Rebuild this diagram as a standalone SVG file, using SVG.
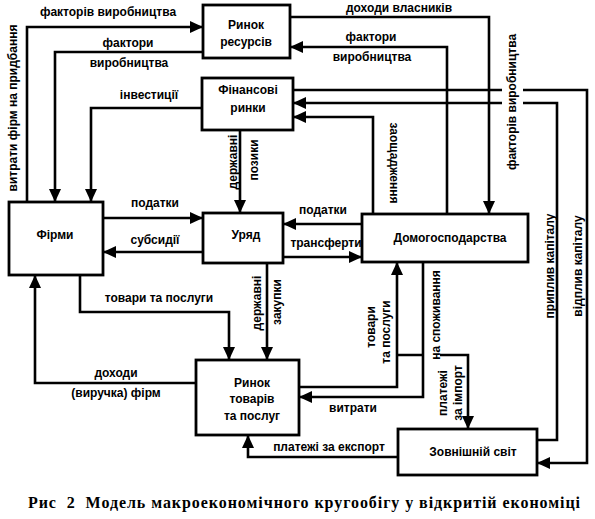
<svg xmlns="http://www.w3.org/2000/svg" width="595" height="519" viewBox="0 0 595 519">
<style>
.box{fill:#fff;stroke:#000;stroke-width:2.8}
.c{fill:none;stroke:#000;stroke-width:2.6}
.a{marker-end:url(#ah)}
text{font-family:"Liberation Sans",Arial,sans-serif;font-weight:bold;font-size:12px;fill:#000;text-anchor:middle;dominant-baseline:central}
.cap{font-family:"Liberation Serif","Times New Roman",serif;font-size:16px;text-anchor:start;dominant-baseline:auto;white-space:pre}
</style>
<defs>
<marker id="ah" markerUnits="userSpaceOnUse" markerWidth="13" markerHeight="12" refX="13" refY="6" orient="auto">
<path d="M0,0 L13,6 L0,12 z" fill="#000"/>
</marker>
</defs>
<rect width="595" height="519" fill="#fff"/>
<g id="connectors">
<path class="c a" d="M27,202 V27 H203"/>
<path class="c a" d="M203,52 H55 V202"/>
<path class="c a" d="M202,108 H91 V202"/>
<path class="c a" d="M290,17 H489 V214"/>
<path class="c a" d="M447,214 V47 H290"/>
<path class="c a" d="M293,90 H502 M523,90 H587 V463 H537"/>
<path class="c a" d="M537,440 H557 V103 H523 M502,103 H293"/>
<path class="c a" d="M373,214 V117 H293"/>
<path class="c a" d="M240,130 V213"/>
<path class="c a" d="M103,218 H203"/>
<path class="c a" d="M203,252 H103"/>
<path class="c a" d="M362,224 H283"/>
<path class="c a" d="M283,257 H362"/>
<path class="c a" d="M80,275 V312 H229 V360"/>
<path class="c a" d="M267,263 V360"/>
<path class="c a" d="M196,383 H35 V275"/>
<path class="c a" d="M299,387 H397 V262"/>
<path class="c a" d="M423,262 V397 H299"/>
<path class="c a" d="M397,355 H423 M440,355 H468 V429"/>
<path class="c a" d="M398,457 H248 V435"/>
</g>
<g id="labels">
<text x="108" y="12">факторів виробництва</text>
<text transform="translate(13,108) rotate(-90)">витрати фірм на придбання</text>
<text x="128" y="43">фактори</text>
<text x="129" y="63">виробництва</text>
<text x="149" y="95">інвестиції</text>
<text x="399" y="8">доходи власників</text>
<text x="371" y="37">фактори</text>
<text x="372" y="57">виробництва</text>
<text transform="translate(512,102) rotate(-90)">факторів виробництва</text>
<text transform="translate(394,163) rotate(90)">заощадження</text>
<text transform="translate(233,162) rotate(-90)">державні</text>
<text transform="translate(254,160) rotate(-90)">позики</text>
<text x="155" y="203">податки</text>
<text x="155" y="240">субсидії</text>
<text x="323" y="210">податки</text>
<text x="326" y="243">трансферти</text>
<text x="159" y="298">товари та послуги</text>
<text transform="translate(257,303) rotate(-90)">державні</text>
<text transform="translate(277,302) rotate(-90)">закупки</text>
<text transform="translate(371,327) rotate(-90)">товари</text>
<text transform="translate(386,332) rotate(-90)">та послуги</text>
<text transform="translate(436,315) rotate(-90)">на споживання</text>
<text transform="translate(550,266) rotate(-90)">приплив капіталу</text>
<text transform="translate(578,266) rotate(-90)">відплив капіталу</text>
<text transform="translate(443,393) rotate(-90)">платежі</text>
<text transform="translate(458,393) rotate(-90)">за імпорт</text>
<text x="116" y="373">доходи</text>
<text x="116" y="393">(виручка) фірм</text>
<text x="353" y="408">витрати</text>
<text x="329" y="447">платежі за експорт</text>
</g>
<g id="rynok-resursiv">
<rect class="box" x="203" y="5" width="87" height="53"/>
<text x="246" y="25">Ринок</text>
<text x="246" y="42">ресурсів</text>
</g>
<g id="finansovi-rynky">
<rect class="box" x="202" y="78" width="91" height="52"/>
<text x="248" y="90">Фінансові</text>
<text x="248" y="108">ринки</text>
</g>
<g id="firmy">
<rect class="box" x="9" y="202" width="94" height="73"/>
<text x="55" y="235">Фірми</text>
</g>
<g id="uriad">
<rect class="box" x="203" y="213" width="80" height="50"/>
<text x="246" y="235">Уряд</text>
</g>
<g id="domogospodarstva">
<rect class="box" x="362" y="214" width="166" height="48"/>
<text x="450" y="238">Домогосподарства</text>
</g>
<g id="rynok-tovariv">
<rect class="box" x="196" y="360" width="103" height="75"/>
<text x="252" y="383">Ринок</text>
<text x="252" y="399">товарів</text>
<text x="252" y="416">та послуг</text>
</g>
<g id="zovnishnii-svit">
<rect class="box" x="398" y="429" width="139" height="46"/>
<text x="473" y="452">Зовнішній світ</text>
</g>
<text class="cap" x="28" y="508" textLength="552" lengthAdjust="spacing">Рис  2  Модель макроекономічного кругообігу у відкритій економіці</text>
</svg>
